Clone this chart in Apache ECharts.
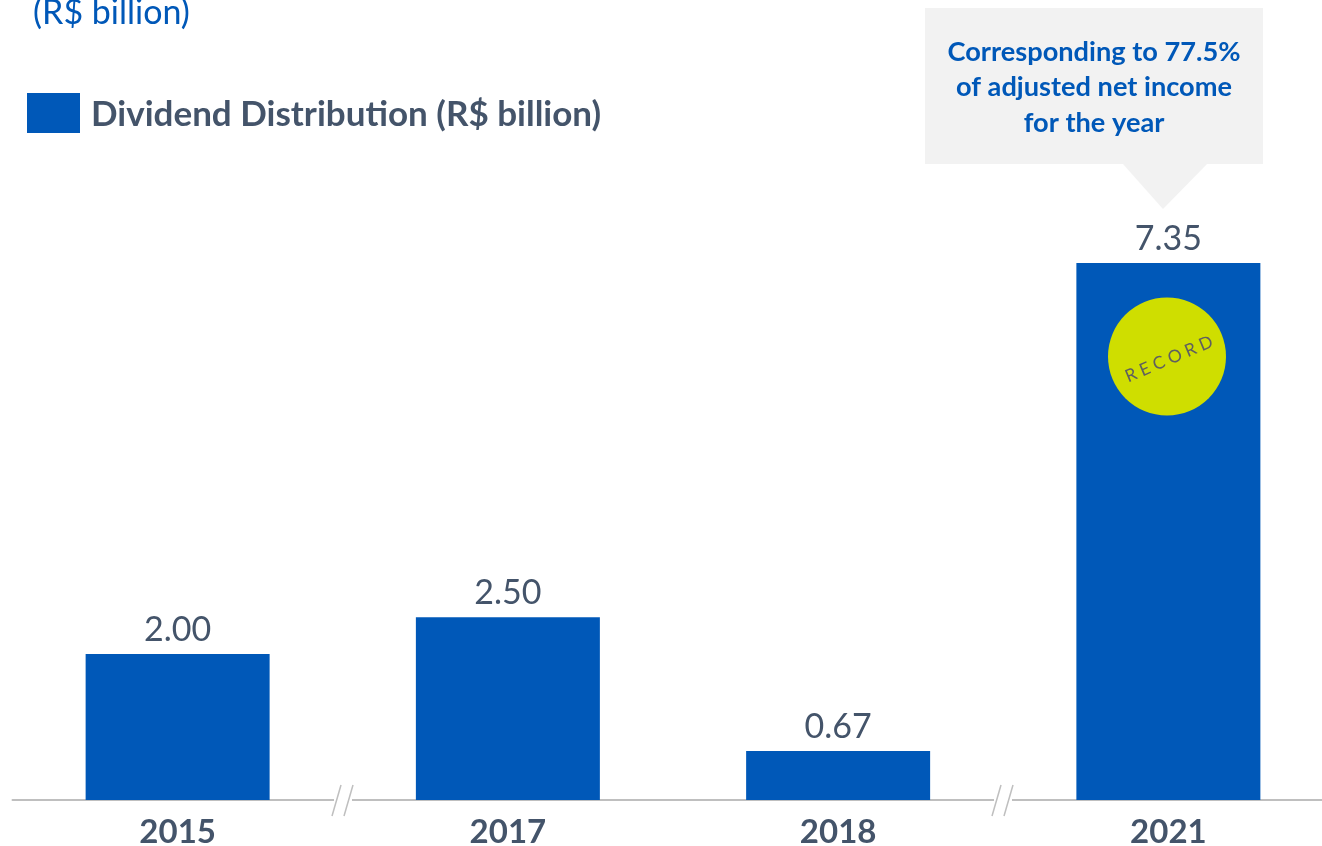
<!DOCTYPE html>
<html>
<head>
<meta charset="utf-8">
<style>
  html, body { margin: 0; padding: 0; background: #ffffff; }
  #chart { width: 1322px; height: 846px; }
</style>
<script src="https://cdn.jsdelivr.net/npm/echarts@6/dist/echarts.min.js"></script>
</head>
<body>
<div id="chart"></div>
<script>
const years = ['2015', '2017', '2018', '2021'];
const dividends = [2.00, 2.50, 0.67, 7.35];
const seriesName = 'Dividend Distribution (R$ billion)';
const unitLine = '(R$ billion)';
const calloutLines = ['Corresponding to 77.5%', 'of adjusted net income', 'for the year'];
const badgeText = 'R E C O R D';

const BLUE = '#0058b8';
const SLATE = '#44546a';
const RULE = '#bfbfbf';
const FONT = 'Lato, "Open Sans", sans-serif';

// Two slanted strokes over a white gap, marking a jump in the year sequence.
function axisBreak(cx) {
  const baseY = 800;
  const stroke = { stroke: RULE, lineWidth: 1.5 };
  return [
    { type: 'rect', z: 10, shape: { x: cx - 9, y: baseY - 2, width: 18, height: 4 }, style: { fill: '#ffffff' } },
    { type: 'line', z: 11, shape: { x1: cx - 2, y1: baseY - 15, x2: cx - 11, y2: baseY + 16 }, style: stroke },
    { type: 'line', z: 11, shape: { x1: cx + 10, y1: baseY - 15, x2: cx + 1, y2: baseY + 16 }, style: stroke }
  ];
}

const chart = echarts.init(document.getElementById('chart'), null, { renderer: 'canvas' });
chart.setOption({
  animation: false,
  backgroundColor: '#ffffff',
  title: {
    text: unitLine,
    left: 33,
    top: -4,
    padding: 0,
    textStyle: { color: BLUE, fontFamily: FONT, fontSize: 34, fontWeight: 'normal' }
  },
  legend: {
    left: 27,
    top: 93,
    padding: 0,
    itemWidth: 53,
    itemHeight: 40,
    icon: 'rect',
    selectedMode: false,
    formatter: name => '{t|' + name + '}',
    textStyle: {
      padding: [0, 0, 0, 6],
      rich: {
        t: { color: SLATE, fontFamily: FONT, fontSize: 35, fontWeight: 'bold', lineHeight: 36, padding: [4, 0, 0, 0] }
      }
    }
  },
  grid: { left: 12.5, top: 69.4, width: 1321, height: 730.6, outerBoundsMode: 'none' },
  xAxis: {
    type: 'category',
    data: years,
    axisTick: { show: false },
    axisLine: { lineStyle: { color: RULE, width: 2 } },
    axisLabel: { color: SLATE, fontFamily: FONT, fontSize: 33, fontWeight: 'bold', margin: 16 }
  },
  yAxis: { type: 'value', min: 0, max: 10, show: false, splitLine: { show: false } },
  series: [{
    name: seriesName,
    type: 'bar',
    data: dividends,
    barWidth: 184,
    itemStyle: { color: BLUE },
    label: {
      show: true,
      position: 'top',
      distance: 7,
      color: SLATE,
      fontFamily: FONT,
      fontSize: 34,
      formatter: p => p.value.toFixed(2)
    }
  }],
  graphic: [
    ...axisBreak(343),
    ...axisBreak(1003),
    // Speech-bubble note above the 2021 bar
    { type: 'polygon', z: 5,
      shape: { points: [[925, 8], [1263, 8], [1263, 164], [1207, 164], [1163, 209], [1123, 164], [925, 164]] },
      style: { fill: '#f2f2f2' } },
    ...calloutLines.map((line, i) => ({
      type: 'text', z: 6, x: 1094, y: 52 + i * 35.5,
      style: { text: line, fill: BLUE, font: 'bold 27.2px ' + FONT, align: 'center', verticalAlign: 'middle' }
    })),
    // Round badge sitting on the 2021 bar
    { type: 'circle', z: 5, shape: { cx: 1167, cy: 356.5, r: 59 }, style: { fill: '#cfde00' } },
    { type: 'text', z: 6, x: 1169, y: 359, rotation: 23 * Math.PI / 180,
      style: { text: badgeText, fill: '#5f5f5f', font: '17.5px ' + FONT, align: 'center', verticalAlign: 'middle' } }
  ]
});
</script>
</body>
</html>
